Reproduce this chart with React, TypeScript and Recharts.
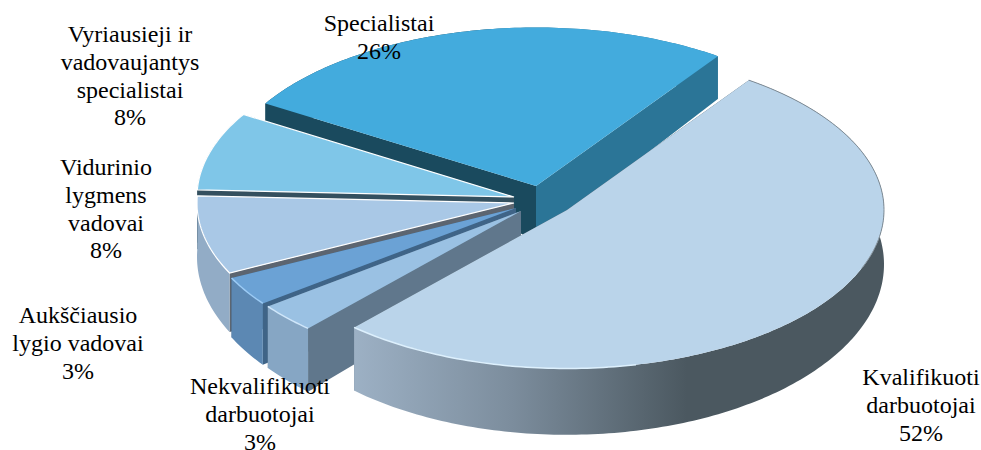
import { PieChart, Pie } from "recharts";

const categories = [
  "Specialistai",
  "Vyriausieji ir vadovaujantys specialistai",
  "Vidurinio lygmens vadovai",
  "Aukščiausio lygio vadovai",
  "Nekvalifikuoti darbuotojai",
  "Kvalifikuoti darbuotojai",
];
const shares = [26, 8, 8, 3, 3, 52];
const labelLines = [
  ["Specialistai"],
  ["Vyriausieji ir", "vadovaujantys", "specialistai"],
  ["Vidurinio", "lygmens", "vadovai"],
  ["Aukščiausio", "lygio vadovai"],
  ["Nekvalifikuoti", "darbuotojai"],
  ["Kvalifikuoti", "darbuotojai"],
];

const chartData = categories.map((name, i) => ({ name, value: shares[i], lines: labelLines[i] }));

const PIE_CX = 536;
const PIE_CY = 186;
const RADIUS = 317;
const SQUASH = 0.5;

interface Look {
  dx: number;
  dy: number;
  top: string;
  outer: string;
  startWall: string;
  endWall: string;
  outline?: string;
  highlight?: string;
  rim?: string;
}

const LOOKS: Look[] = [
  { dx: 0, dy: 0, top: "#43ABDD", outer: "url(#specWall)", startWall: "#2B7597", endWall: "#1A4A5E" },
  { dx: -22, dy: 11, top: "#7FC6E8", outer: "#34505F", startWall: "#1A4A5E", endWall: "#34505F", outline: "#FFFFFF" },
  { dx: -22, dy: 17, top: "#A9C8E6", outer: "#92ACC6", startWall: "#34505F", endWall: "#5C6570", outline: "#FFFFFF" },
  { dx: -20, dy: 22, top: "#6BA2D5", outer: "#5C88B3", startWall: "#3F6487", endWall: "#3F6487", highlight: "#9CCBF5" },
  { dx: -15, dy: 25, top: "#9AC1E3", outer: "#86A6C4", startWall: "#60778C", endWall: "#60778C", highlight: "#CFE6FA" },
  { dx: 31, dy: 24, top: "#BAD4EA", outer: "url(#kvalWall)", startWall: "#4B5860", endWall: "#4B5860", highlight: "#DDF0FD", rim: "#7F8C96" },
];

const LABEL_POS = [
  { x: 379, y: 31 },
  { x: 130, y: 42 },
  { x: 106, y: 175 },
  { x: 78, y: 323 },
  { x: 260, y: 394 },
  { x: 921, y: 385 },
];
const FONT_SIZE = 24;
const LINE_HEIGHT = 27.8;

// side walls get taller towards the viewer
const depthAt = (y: number) => 43 + (y - 58) * 0.075;

function point(cx: number, cy: number, deg: number) {
  const a = (deg * Math.PI) / 180;
  return { x: cx + RADIUS * Math.cos(a), y: cy - RADIUS * SQUASH * Math.sin(a) };
}

function arcPoints(cx: number, cy: number, from: number, to: number) {
  const steps = Math.max(2, Math.ceil(Math.abs(to - from)));
  const pts = [];
  for (let i = 0; i <= steps; i++) {
    pts.push(point(cx, cy, from + ((to - from) * i) / steps));
  }
  return pts;
}

const toPath = (pts: { x: number; y: number }[], close = true) =>
  "M" + pts.map((p) => `${p.x.toFixed(2)},${p.y.toFixed(2)}`).join("L") + (close ? "Z" : "");

const drop = (p: { x: number; y: number }) => ({ x: p.x, y: p.y + depthAt(p.y) });

// eslint-disable-next-line @typescript-eslint/no-explicit-any
function SliceShape(props: any) {
  const { startAngle, endAngle, name } = props;
  const look = LOOKS[categories.indexOf(name)];
  const cx = props.cx + look.dx;
  const cy = props.cy + look.dy;
  const centre = { x: cx, y: cy };
  const arc = arcPoints(cx, cy, startAngle, endAngle);
  const first = arc[0];
  const last = arc[arc.length - 1];
  // the rim catches light only on the front left
  const lit = arc.filter((p) => p.y > cy + 2 && p.x < cx + 70);
  const shaded = arc.filter((p) => p.x > cx + 70 && p.y < cy + 60);

  return (
    <g>
      <defs>
        <linearGradient id="kvalWall" gradientUnits="userSpaceOnUse" x1={352} y1={0} x2={884} y2={0}>
          <stop offset="0" stopColor="#9DB1C5" />
          <stop offset="0.3" stopColor="#7C8D9D" />
          <stop offset="0.63" stopColor="#4B5860" />
          <stop offset="1" stopColor="#4B5860" />
        </linearGradient>
        <linearGradient id="specWall" gradientUnits="userSpaceOnUse" x1={265} y1={0} x2={718} y2={0}>
          <stop offset="0.5" stopColor="#1A4A5E" />
          <stop offset="0.5" stopColor="#2B7597" />
        </linearGradient>
      </defs>
      <path d={toPath([centre, first, drop(first), drop(centre)])} fill={look.startWall} />
      <path d={toPath([centre, last, drop(last), drop(centre)])} fill={look.endWall} />
      <path d={toPath([...arc, ...arc.map(drop).reverse()])} fill={look.outer} />
      <path
        d={toPath([centre, ...arc])}
        fill={look.top}
        stroke={look.outline ?? "none"}
        strokeWidth={look.outline ? 1.2 : 0}
      />
      {look.highlight && lit.length > 1 && (
        <path d={toPath(lit, false)} fill="none" stroke={look.highlight} strokeWidth={1.5} />
      )}
      {look.rim && shaded.length > 1 && (
        <path d={toPath(shaded, false)} fill="none" stroke={look.rim} strokeWidth={1} />
      )}
    </g>
  );
}

// eslint-disable-next-line @typescript-eslint/no-explicit-any
function renderLabel(props: any) {
  const idx = categories.indexOf(props.name);
  const pos = LABEL_POS[idx];
  const lines = [...labelLines[idx], `${props.value}%`];
  return (
    <text
      key={props.name}
      textAnchor="middle"
      fontFamily="'Liberation Serif', serif"
      fontSize={FONT_SIZE}
      fill="#000000"
    >
      {lines.map((line, i) => (
        <tspan key={i} x={pos.x} y={pos.y + i * LINE_HEIGHT}>
          {line}
        </tspan>
      ))}
    </text>
  );
}

export default function App() {
  return (
    <div style={{ position: "absolute", left: 0, top: 0, width: 981, height: 450, background: "#fff" }}>
      <PieChart width={981} height={450} margin={{ top: 0, right: 0, bottom: 0, left: 0 }}>
        <Pie
          data={chartData}
          dataKey="value"
          nameKey="name"
          cx={PIE_CX}
          cy={PIE_CY}
          outerRadius={RADIUS}
          startAngle={55}
          endAngle={415}
          stroke="none"
          shape={SliceShape}
          label={renderLabel}
          labelLine={false}
          isAnimationActive={false}
        />
      </PieChart>
    </div>
  );
}
